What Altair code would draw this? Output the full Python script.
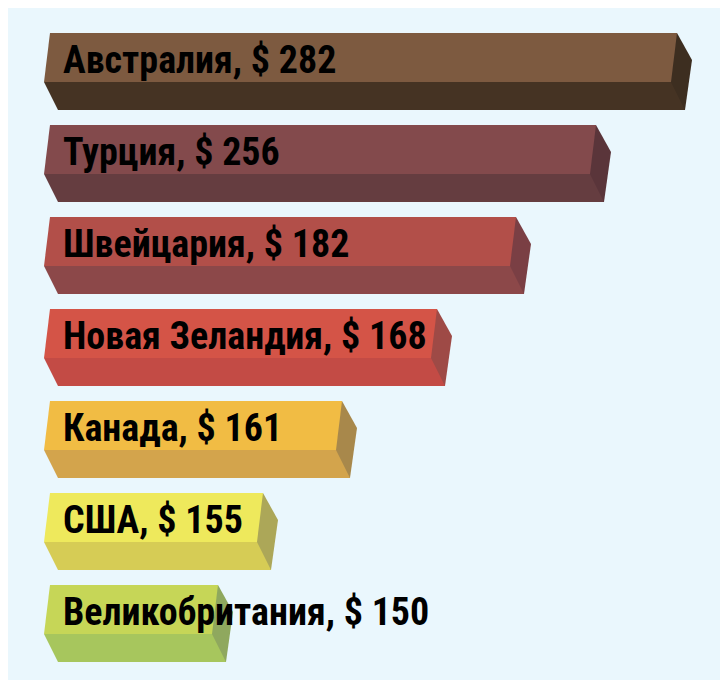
import altair as alt
import pandas as pd

countries = ["Австралия", "Турция", "Швейцария", "Новая Зеландия", "Канада", "США", "Великобритания"]
values = [282, 256, 182, 168, 161, 155, 150]

top_colors = ["#7D5A40", "#834A4C", "#B24F49", "#D45447", "#F1BC44", "#EEE95C", "#C6D657"]
bottom_colors = ["#453323", "#653D40", "#8C4849", "#C34B45", "#D3A44C", "#D6CC55", "#A7C65D"]
side_colors = ["#3D2E20", "#5A353A", "#7A3F44", "#9E4A46", "#A8884B", "#ACA758", "#8FA85E"]

df = pd.DataFrame({
    "country": countries,
    "value": values,
    "zero": [0] * len(values),
    "label": [f"{c}, $ {v}" for c, v in zip(countries, values)],
})

# piecewise value scale, matching the picture's non-proportional bar lengths
x_scale = alt.Scale(domain=[0, 150, 155, 161, 168, 182, 256, 282],
                    range=[42, 210, 255, 334, 429, 508, 588, 669],
                    nice=False, zero=False)
y_scale = alt.Scale(domain=countries, range=[17.5, 661.5], paddingInner=0, paddingOuter=0)

Y = alt.Y("country:N", scale=y_scale, axis=None, sort=countries)

def col(rng):
    return alt.Color("country:N", scale=alt.Scale(domain=countries, range=rng), legend=None)

base = alt.Chart(df)

top_face = base.mark_bar(height=49, yOffset=-14, cornerRadius=0).encode(
    x=alt.X("zero:Q", scale=x_scale, axis=None),
    x2="value:Q",
    y=Y,
    color=col(top_colors),
)
top_left = base.mark_point(shape="M0,-38.5 L0,10.5 L-6,10.5 Z", size=4, filled=True,
                           opacity=1, strokeWidth=0).encode(
    x=alt.X("zero:Q", scale=x_scale, axis=None),
    y=Y,
    color=col(top_colors),
)
bottom_face = base.mark_bar(height=28, yOffset=24.5, xOffset=8, x2Offset=8).encode(
    x=alt.X("zero:Q", scale=x_scale, axis=None),
    x2="value:Q",
    y=Y,
    color=col(bottom_colors),
)
bottom_left = base.mark_point(shape="M-6,10.5 L8,10.5 L8,38.5 Z", size=4, filled=True,
                              opacity=1, strokeWidth=0).encode(
    x=alt.X("zero:Q", scale=x_scale, axis=None),
    y=Y,
    color=col(bottom_colors),
)
side = base.mark_point(shape="M0,-38.5 L15,-11.5 L8,38.5 L-6,10.5 Z", size=4, filled=True,
                       opacity=1, strokeWidth=0).encode(
    x=alt.X("value:Q", scale=x_scale, axis=None),
    y=Y,
    color=col(side_colors),
)
text = base.mark_text(align="left", baseline="alphabetic", dy=1.5,
                      font="'Roboto Condensed', 'DejaVu Sans Condensed', sans-serif",
                      fontWeight="bold", fontSize=38, color="#000000").encode(
    x=alt.value(55),
    y=Y,
    text="label:N",
)

chart = alt.layer(top_face, top_left, bottom_face, bottom_left, side, text).resolve_scale(
    color="independent"
).properties(
    width=712, height=672, padding=0, autosize=alt.AutoSizeParams(type="none"),
    background="#EAF7FD",
).configure_view(stroke=None)

chart.save("out.html", embed_options={"renderer": "svg", "actions": False})
